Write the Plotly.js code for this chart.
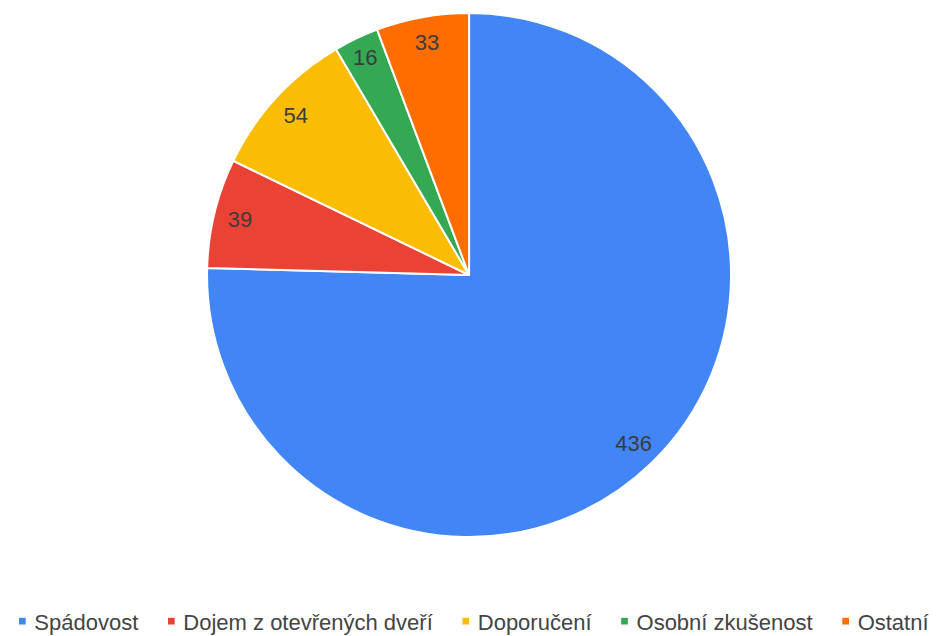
<!DOCTYPE html>
<html>
<head>
<meta charset="utf-8">
<script src="https://cdn.plot.ly/plotly-3.0.1.min.js"></script>
<style>
html,body{margin:0;padding:0;background:#fff;}
#chart{width:940px;height:636px;}
.legendpie{transform:translate(28px,0px) scale(0.67) !important;}
</style>
</head>
<body>
<div id="chart"></div>
<script>
const categories = ["Spádovost", "Dojem z otevřených dveří", "Doporučení", "Osobní zkušenost", "Ostatní"];
const values = [436, 39, 54, 16, 33];
const colors = ["#4285F4", "#EA4335", "#FBBC04", "#34A853", "#FF6D01"];

const FONT = "Liberation Sans, Arial, sans-serif";
const dom = { x: [0, 0.998], y: [0, 1] };

const slices = {
  type: "pie",
  labels: categories,
  values: values,
  sort: false,
  direction: "clockwise",
  rotation: 0,
  marker: { colors: colors, line: { color: "#ffffff", width: 2 } },
  textinfo: "none",
  hoverinfo: "label+value+percent",
  domain: dom
};

// transparent ring used only to place the value labels near the rim
const labelRing = {
  type: "pie",
  labels: categories,
  values: values,
  sort: false,
  direction: "clockwise",
  rotation: 0,
  hole: 0.8,
  showlegend: false,
  marker: { colors: categories.map(() => "rgba(0,0,0,0)"), line: { width: 0 } },
  textinfo: "value",
  textposition: "inside",
  insidetextorientation: "horizontal",
  textfont: { family: FONT, size: 22, color: "#3c3c3c" },
  hoverinfo: "skip",
  domain: dom
};

const layout = {
  width: 940,
  height: 636,
  margin: { l: 0, r: 0, t: 13, b: 99, autoexpand: false },
  paper_bgcolor: "#ffffff",
  showlegend: true,
  uniformtext: { mode: "show", minsize: 22 },
  legend: {
    orientation: "h",
    x: -0.006,
    xanchor: "left",
    y: -0.161,
    yanchor: "middle",
    font: { family: FONT, size: 22, color: "#444444" },
    itemwidth: 30,
    traceorder: "normal"
  }
};

Plotly.newPlot("chart", [slices, labelRing], layout, { displayModeBar: false, staticPlot: true });
</script>
</body>
</html>
